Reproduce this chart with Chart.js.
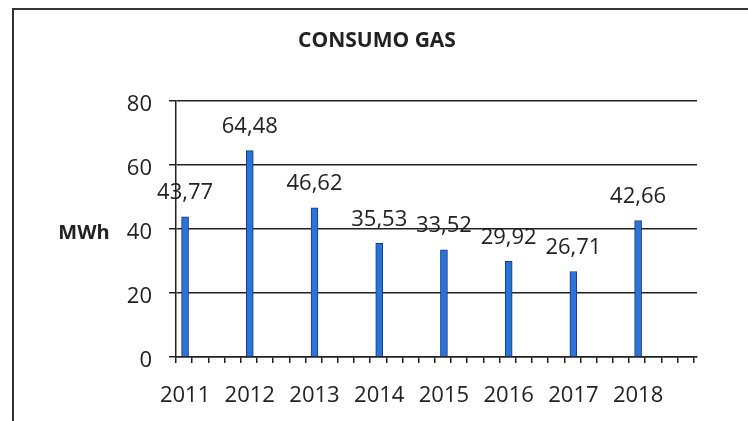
<!DOCTYPE html>
<html>
<head>
<meta charset="utf-8">
<script src="https://cdn.jsdelivr.net/npm/chart.js@4.4.0/dist/chart.umd.min.js"></script>
<style>
    body { margin: 0; background: #fff; }
    #wrap { position: relative; width: 748px; height: 421px; overflow: hidden; }
    #frame { position: absolute; left: 12px; top: 8px; right: -4px; bottom: -4px; border-top: 2px solid #333; border-left: 2px solid #333; }
    canvas { position: absolute; left: 0; top: 0; }
</style>
</head>
<body>
<div id="wrap">
    <div id="frame"></div>
    <canvas id="gasChart" width="748" height="421"></canvas>
</div>
<script>
const years = [2011, 2012, 2013, 2014, 2015, 2016, 2017, 2018];
const consumo = [43.77, 64.48, 46.62, 35.53, 33.52, 29.92, 26.71, 42.66];
const yTicks = [0, 20, 40, 60, 80];

// axis range (years), front axis has 4 small ticks per year
const xMin = 2010.86;
const xMax = 2018.91;
const minorTicks = [];
for (let v = xMin; v <= xMax - 0.05; v += 0.25) minorTicks.push(v);

const FONT = '"Open Sans", "DejaVu Sans", sans-serif';
const INK = '#222';

// value labels above the bars
const valueLabels = {
    id: 'valueLabels',
    afterDatasetsDraw(chart) {
        const ctx = chart.ctx;
        const meta = chart.getDatasetMeta(0);
        ctx.save();
        ctx.font = '22px ' + FONT;
        ctx.fillStyle = INK;
        ctx.textAlign = 'center';
        ctx.textBaseline = 'middle';
        meta.data.forEach((bar, i) => {
            ctx.fillText(consumo[i].toFixed(2).replace('.', ','), bar.x, bar.y - 24);
        });
        ctx.restore();
    }
};

// title and horizontal "MWh" axis title
const chartTexts = {
    id: 'chartTexts',
    afterDraw(chart) {
        const ctx = chart.ctx;
        ctx.save();
        ctx.fillStyle = INK;
        ctx.textAlign = 'center';
        ctx.textBaseline = 'middle';
        ctx.font = 'bold 21px ' + FONT;
        ctx.fillText('CONSUMO GAS', 377, 41);
        ctx.font = 'bold 20px ' + FONT;
        ctx.fillText('MWh', 84, chart.scales.y.getPixelForValue(40) + 4);
        ctx.restore();
    }
};

const ctx = document.getElementById('gasChart').getContext('2d');
new Chart(ctx, {
    type: 'bar',
    data: {
        datasets: [{
            data: years.map((y, i) => ({ x: y, y: consumo[i] })),
            backgroundColor: '#2b72d9',
            borderColor: '#17397a',
            borderWidth: 1,
            borderSkipped: 'bottom',
            barThickness: 7,
            xAxisID: 'x'
        }]
    },
    options: {
        responsive: false,
        animation: false,
        layout: { padding: { left: 0, right: 51, top: 101, bottom: 0 } },
        plugins: {
            legend: { display: false },
            tooltip: { enabled: false },
            title: { display: false }
        },
        scales: {
            y: {
                min: 0,
                max: 80,
                afterBuildTicks: scale => { scale.ticks = yTicks.map(v => ({ value: v })); },
                afterFit: scale => { scale.width = 176; },
                ticks: { color: INK, font: { family: FONT, size: 22 }, padding: 17, labelOffset: 4 },
                grid: { color: INK, lineWidth: 1.5, tickLength: 7 },
                border: { color: INK, width: 1.5 }
            },
            x2: {
                type: 'linear',
                position: 'bottom',
                weight: 0,
                offset: false,
                min: xMin,
                max: xMax,
                afterBuildTicks: scale => { scale.ticks = minorTicks.map(v => ({ value: v })); },
                afterFit: scale => { scale.height = 7; },
                ticks: { display: false },
                grid: { offset: false, drawOnChartArea: false, drawTicks: true, tickLength: 6, color: INK, lineWidth: 1.5 },
                border: { color: INK, width: 1.5 }
            },
            x: {
                type: 'linear',
                position: 'bottom',
                weight: 1,
                offset: false,
                min: xMin,
                max: xMax,
                afterBuildTicks: scale => { scale.ticks = years.map(v => ({ value: v })); },
                afterFit: scale => { scale.height = 57; },
                ticks: {
                    color: INK,
                    font: { family: FONT, size: 22 },
                    autoSkip: false,
                    maxRotation: 0,
                    padding: 11,
                    callback: v => String(v)
                },
                grid: { display: false, offset: false },
                border: { display: false }
            }
        }
    },
    plugins: [valueLabels, chartTexts]
});
</script>
</body>
</html>
